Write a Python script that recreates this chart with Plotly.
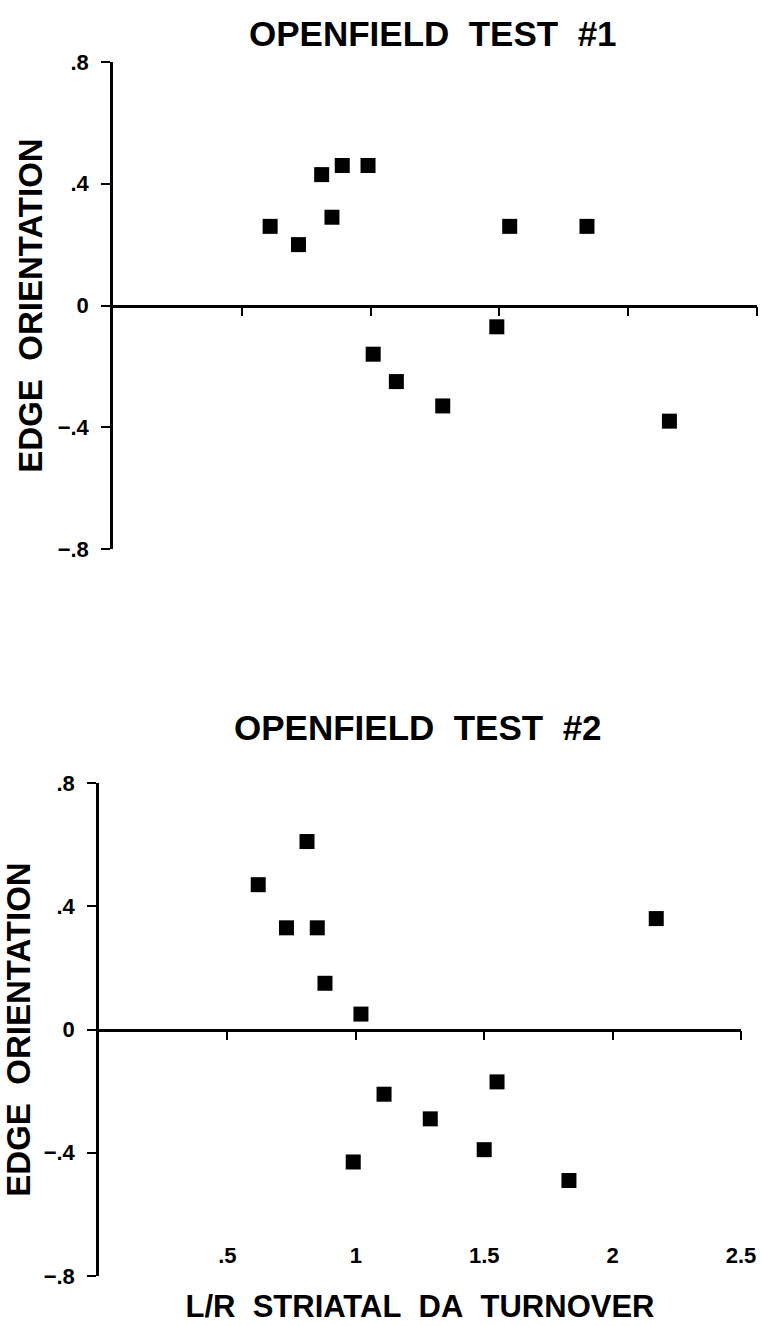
import plotly.graph_objects as go

# ---- data ----
x_test1 = [0.61, 0.72, 0.81, 0.89, 0.85, 0.99, 1.01, 1.10, 1.28, 1.49, 1.54, 1.84, 2.16]
y_test1 = [0.26, 0.20, 0.43, 0.46, 0.29, 0.46, -0.16, -0.25, -0.33, -0.07, 0.26, 0.26, -0.38]

x_test2 = [0.62, 0.73, 0.81, 0.85, 0.88, 1.02, 0.99, 1.11, 1.29, 1.50, 1.55, 1.83, 2.17]
y_test2 = [0.47, 0.33, 0.61, 0.33, 0.15, 0.05, -0.43, -0.21, -0.29, -0.39, -0.17, -0.49, 0.36]

y_tickvals = [-0.8, -0.4, 0, 0.4, 0.8]
y_ticktext = ["\u2212.8", "\u2212.4", "0", ".4", ".8"]
x_tickvals = [0.5, 1, 1.5, 2, 2.5]
x_ticktext = [".5", "1", "1.5", "2", "2.5"]
titles = ["OPENFIELD\u00a0 TEST\u00a0 #1", "OPENFIELD\u00a0 TEST\u00a0 #2"]
x_title = "L/R\u00a0 STRIATAL\u00a0 DA\u00a0 TURNOVER"
y_title = "EDGE\u00a0 ORIENTATION"

W, H = 761, 1326
FONT = "Liberation Sans, Arial, sans-serif"


def px_x(p):
    return p / W


def px_y(p):
    return 1 - p / H


top_xd = [px_x(113), px_x(757)]
top_yd = [px_y(549), px_y(62)]
bot_xd = [px_x(99), px_x(741)]
bot_yd = [px_y(1276), px_y(783)]

fig = go.Figure()
marker = dict(symbol="square", size=15, color="black", line=dict(width=0))
fig.add_trace(go.Scatter(x=x_test1, y=y_test1, mode="markers", marker=marker,
                         xaxis="x", yaxis="y", showlegend=False))
fig.add_trace(go.Scatter(x=x_test2, y=y_test2, mode="markers", marker=marker,
                         xaxis="x2", yaxis="y2", showlegend=False))

tickfont = dict(family=FONT, size=22, color="black", weight="bold")
ytitlefont = dict(family=FONT, size=33, color="black", weight="bold")
xtitlefont = dict(family=FONT, size=31, color="black", weight="bold")

yaxis_common = dict(range=[-0.8, 0.8], showgrid=False, zeroline=False,
                    showline=True, linecolor="black", linewidth=2.5,
                    ticks="outside", ticklen=9, tickwidth=2, tickcolor="black",
                    tickvals=y_tickvals, ticktext=y_ticktext, tickfont=tickfont,
                    ticklabelstandoff=8,
                    title=dict(text=y_title, font=ytitlefont, standoff=6),
                    automargin=False)

fig.update_layout(
    xaxis=dict(domain=top_xd, range=[0, 2.5], anchor="y", showgrid=False,
               zeroline=False, showline=False, showticklabels=False, ticks=""),
    yaxis=dict(domain=top_yd, anchor="x", **yaxis_common),
    xaxis2=dict(domain=bot_xd, range=[0, 2.5], anchor="free", position=px_y(1240),
                showgrid=False, zeroline=False, showline=False, ticks="",
                tickvals=x_tickvals, ticktext=x_ticktext, tickfont=tickfont,
                title=dict(text=x_title, font=xtitlefont, standoff=28),
                automargin=False),
    yaxis2=dict(domain=bot_yd, anchor="x2", **yaxis_common),
    xaxis3=dict(overlaying="x", range=[0, 2.5], anchor="free",
                position=(top_yd[0] + top_yd[1]) / 2, side="bottom",
                showgrid=False, zeroline=False, showline=True, linecolor="black",
                linewidth=2.5, ticks="outside", ticklen=9, tickwidth=2,
                tickcolor="black", tickvals=x_tickvals, showticklabels=False,
                automargin=False),
    xaxis4=dict(overlaying="x2", range=[0, 2.5], anchor="free",
                position=(bot_yd[0] + bot_yd[1]) / 2, side="bottom",
                showgrid=False, zeroline=False, showline=True, linecolor="black",
                linewidth=2.5, ticks="outside", ticklen=9, tickwidth=2,
                tickcolor="black", tickvals=x_tickvals, showticklabels=False,
                automargin=False),
)

fig.add_trace(go.Scatter(x=[None], y=[None], xaxis="x3", yaxis="y", showlegend=False,
                         hoverinfo="skip"))
fig.add_trace(go.Scatter(x=[None], y=[None], xaxis="x4", yaxis="y2", showlegend=False,
                         hoverinfo="skip"))

title_font = dict(family=FONT, size=35, color="black", weight="bold")
fig.add_annotation(text=titles[0], x=px_x(433), y=px_y(33), xref="paper", yref="paper",
                   showarrow=False, font=title_font, xanchor="center", yanchor="middle")
fig.add_annotation(text=titles[1], x=px_x(418), y=px_y(727), xref="paper", yref="paper",
                   showarrow=False, font=title_font, xanchor="center", yanchor="middle")

fig.update_layout(width=W, height=H, margin=dict(l=0, r=0, t=0, b=0),
                  paper_bgcolor="white", plot_bgcolor="white", showlegend=False)

fig.write_html("out.html")
